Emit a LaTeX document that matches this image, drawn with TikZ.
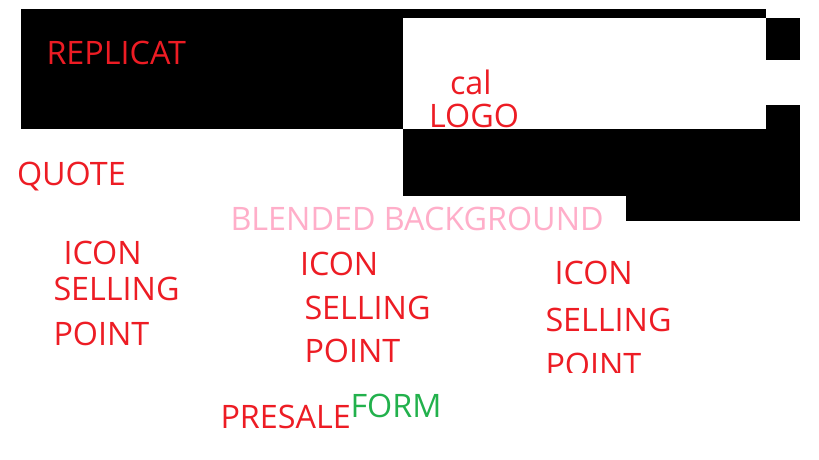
\documentclass[tikz,border=0pt]{standalone}
\usepackage{fontspec}
\setmainfont{Open Sans}
\definecolor{pred}{RGB}{237,28,36}
\definecolor{ppink}{RGB}{255,174,201}
\definecolor{pgreen}{RGB}{34,177,76}
\begin{document}
\begin{tikzpicture}[x=1pt,y=-1pt,
  lbl/.style={anchor=base west,inner sep=0pt,outer sep=0pt,font=\fontsize{32.3}{36}\selectfont,text=pred},
  blk/.style={fill=black,draw=none}]
\useasboundingbox (0,0) rectangle (819,460);
\fill[white] (0,0) rectangle (819,460);
% black shapes
\fill[blk] (21,9) rectangle (766,18);
\fill[blk] (21,18) rectangle (403,129);
\fill[blk] (766,18) rectangle (800,60);
\fill[blk] (766,105) rectangle (800,221);
\fill[blk] (403,129) rectangle (800,196);
\fill[blk] (626,196) rectangle (800,221);
% texts
\node[lbl] (replicat) at (46.5,64) {REPLICAT};
\node[lbl] (cal) at (450,94.5) {cal};
\node[lbl] (logo) at (429,127.5) {LOGO};
\node[lbl] (quote) at (17,185) {QUOTE};
\node[lbl,text=ppink] (blended) at (230.5,230) {BLENDED BACKGROUND};
\node[lbl] (icon1) at (63.5,264.7) {ICON};
\node[lbl] (sell1) at (53.5,300.7) {SELLING};
\node[lbl] (point1) at (53.5,345) {POINT};
\node[lbl] (icon2) at (300,275.7) {ICON};
\node[lbl] (sell2) at (304.5,319.3) {SELLING};
\node[lbl] (point2) at (304.5,362.3) {POINT};
\node[lbl] (icon3) at (554.5,284) {ICON};
\node[lbl] (sell3) at (545.5,331) {SELLING};
\begin{scope}
\clip (500,340) rectangle (700,372.5);
\node[lbl] (point3) at (545.5,376.5) {POINT};
\end{scope}
\node[lbl] (presale) at (220.5,428.3) {PRESALE};
\node[lbl,text=pgreen] (form) at (350.5,417.3) {FORM};
\end{tikzpicture}
\end{document}
